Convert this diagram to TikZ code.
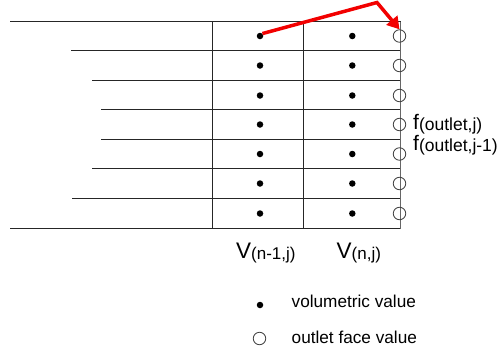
\documentclass[tikz,border=0pt]{standalone}
\usepackage{fontspec}
\setmainfont{Liberation Sans}
\usetikzlibrary{arrows.meta}
\begin{document}
\begin{tikzpicture}[x=1pt,y=-1pt,
  gridline/.style={line width=1pt,draw=black!85},
  dotval/.style={circle,fill=black,inner sep=0pt,minimum size=6.5pt},
  faceval/.style={circle,draw=black!75,line width=0.8pt,fill=none,inner sep=0pt,minimum size=12.5pt},
  redarrow/.style={draw=red!95!black,line width=3.5pt,-{Triangle[length=12pt,width=14pt]}},
  lbl/.style={inner sep=0pt,anchor=base west}
]
\useasboundingbox (0,0) rectangle (501,351);
% horizontal grid lines
\draw[gridline] (10,21.5) -- (401,21.5);
\draw[gridline] (71,50.5) -- (401,50.5);
\draw[gridline] (92,80) -- (401,80);
\draw[gridline] (101,109.5) -- (401,109.5);
\draw[gridline] (101,139) -- (401,139);
\draw[gridline] (92,168.5) -- (401,168.5);
\draw[gridline] (72,198.5) -- (401,198.5);
\draw[gridline] (10,228.5) -- (401,228.5);
% vertical lines
\draw[gridline] (212.3,21.5) -- (212.3,228.5);
\draw[gridline] (303.7,21.5) -- (303.7,228.5);
\draw[line width=1pt,draw=black!60] (400.7,21.5) -- (400.7,228.5);
% values
\foreach \i/\y in {1/36,2/65.5,3/95.5,4/124.5,5/154,6/183.5,7/213.5}{
  \node[dotval] (a\i) at (260,\y) {};
  \node[dotval] (b\i) at (352.3,\y) {};
  \node[faceval] (c\i) at (399.5,\y) {};
}
% arrow
\coordinate (bend) at (377,2.5);
\draw[redarrow] (a1.north east) -- (bend) -- (c1.north);
% labels
\node[lbl] (f1) at (413,129.5) {\fontsize{21}{21}\selectfont f\raisebox{-1pt}{\fontsize{17.5}{17.5}\selectfont (outlet,j)}};
\node[lbl] (f2) at (413,150) {\fontsize{21}{21}\selectfont f\raisebox{-1pt}{\fontsize{17.5}{17.5}\selectfont (outlet,j-1)}};
\node[lbl] (v1) at (236,258) {\fontsize{22.5}{22.5}\selectfont V\raisebox{-1pt}{\fontsize{17}{17}\selectfont (n-1,j)}};
\node[lbl] (v2) at (336.5,258) {\fontsize{22.5}{22.5}\selectfont V\raisebox{-1pt}{\fontsize{17}{17}\selectfont (n,j)}};
% legend
\node[dotval] (ld) at (260,305) {};
\node[faceval] (lc) at (259.5,338.5) {};
\node[lbl] (lt1) at (291.5,307) {\fontsize{17.2}{17.2}\selectfont volumetric value};
\node[lbl] (lt2) at (291.5,343.5) {\fontsize{17.2}{17.2}\selectfont outlet face value};
\end{tikzpicture}
\end{document}
